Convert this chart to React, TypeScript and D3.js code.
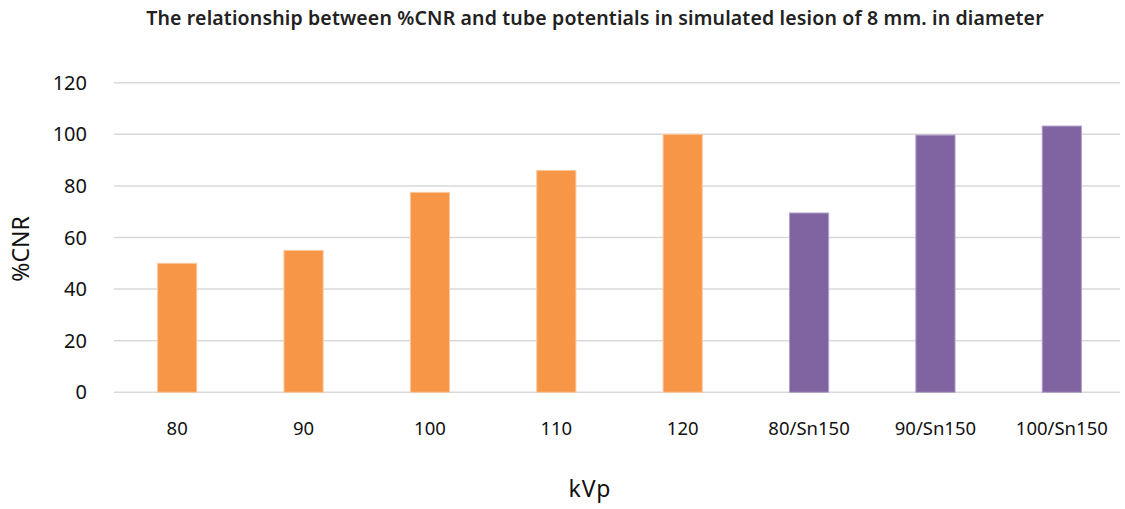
import React from "react";
import * as d3 from "d3";

const categories = ["80", "90", "100", "110", "120", "80/Sn150", "90/Sn150", "100/Sn150"];
const values = [50, 55, 77.5, 86, 100, 69.5, 99.7, 103.2];
const groups = ["kVp", "kVp", "kVp", "kVp", "kVp", "Sn", "Sn", "Sn"];
const yTicks = [0, 20, 40, 60, 80, 100, 120];
const colors: Record<string, string> = { kVp: "#F79646", Sn: "#8064A2" };
const borders: Record<string, string> = { kVp: "#FAC8A0", Sn: "#B0A0C8" };

const W = 1125;
const H = 509;
const FONT = "'Noto Sans', 'Open Sans', sans-serif";

export default function App() {
  const x = d3.scaleBand<string>().domain(categories).range([114, 1125]).paddingInner(0.69).paddingOuter(0.345);
  const y = d3.scaleLinear().domain([0, 120]).range([392.3, 82.7]);

  return (
    <svg width={W} height={H} style={{ position: "absolute", left: 0, top: 0, background: "#fff" }} fontFamily={FONT}>
      <text x={595} y={25} textAnchor="middle" fontSize={19.5} fontWeight={600} letterSpacing={0.15} fill="#222">
        The relationship between %CNR and tube potentials in simulated lesion of 8 mm. in diameter
      </text>
      {yTicks.map((t) => (
        <g key={t}>
          <line x1={114} x2={1120} y1={y(t)} y2={y(t)} stroke="#D9D9D9" strokeWidth={1.5} />
          <text x={87} y={y(t)} dy="0.35em" textAnchor="end" fontSize={20} fill="#111">
            {t}
          </text>
        </g>
      ))}
      {categories.map((c, i) => (
        <rect
          key={c}
          x={x(c)!}
          y={y(values[i])}
          width={x.bandwidth()}
          height={y(0) - y(values[i])}
          fill={colors[groups[i]]}
          stroke={borders[groups[i]]}
          strokeWidth={1}
        />
      ))}
      {categories.map((c) => (
        <text key={c} x={x(c)! + x.bandwidth() / 2} y={428.5} dy="0.35em" textAnchor="middle" fontSize={18.5} fill="#111">
          {c}
        </text>
      ))}
      <text x={590} y={497} textAnchor="middle" fontSize={23} letterSpacing={1} fill="#111">
        kVp
      </text>
      <text transform={`translate(21,249) rotate(-90)`} dy="0.35em" textAnchor="middle" fontSize={23} fill="#111">
        %CNR
      </text>
    </svg>
  );
}
